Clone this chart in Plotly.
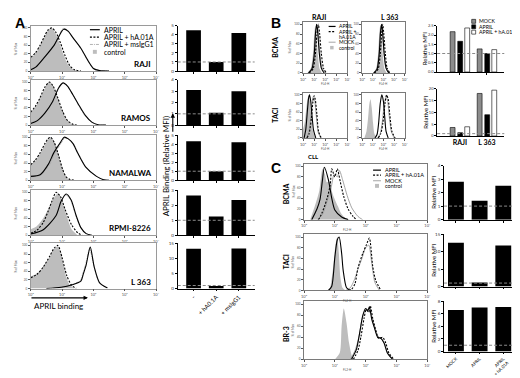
import plotly.graph_objects as go

W, H = 520, 378
FONT = "Lato, 'Open Sans', 'Liberation Sans', sans-serif"

# ============================ DATA ============================
# Histograms: x = log10 fluorescence (decades 10^0..10^4), y = % of max

# ---- Panel A: cell lines, APRIL binding ----
a_cells = ["RAJI", "RAMOS", "NAMALWA", "RPMI-8226", "L 363"]

raji_ctrl_x = [0, 0.15, 0.3, 0.45, 0.55, 0.65, 0.75, 0.9, 1.05, 1.2, 1.35, 1.5]
raji_ctrl_y = [30, 40, 58, 80, 94, 100, 92, 68, 38, 14, 4, 0]
raji_ha_x = [0, 0.15, 0.3, 0.45, 0.55, 0.67, 0.8, 0.95, 1.1, 1.25, 1.4, 1.6]
raji_ha_y = [32, 42, 60, 82, 95, 100, 90, 65, 35, 12, 3, 0]
raji_april_x = [0, 0.16, 0.43, 0.75, 0.91, 1.05, 1.2, 1.34, 1.6, 1.83, 2.0, 2.2, 2.5]
raji_april_y = [3, 9, 31, 60, 82, 97, 92, 78, 53, 24, 6, 1, 0]
raji_igg_x = [0, 0.2, 0.45, 0.75, 0.92, 1.03, 1.18, 1.32, 1.58, 1.8, 1.98, 2.2, 2.5]
raji_igg_y = [4, 11, 33, 62, 85, 99, 95, 80, 55, 26, 7, 1, 0]

ramos_ctrl_x = [0, 0.15, 0.3, 0.45, 0.58, 0.7, 0.85, 1.0, 1.15, 1.3, 1.45]
ramos_ctrl_y = [28, 42, 62, 85, 100, 92, 65, 35, 12, 3, 0]
ramos_ha_x = [0, 0.15, 0.3, 0.45, 0.6, 0.72, 0.87, 1.02, 1.18, 1.35, 1.5]
ramos_ha_y = [30, 44, 64, 88, 100, 90, 62, 32, 10, 2, 0]
ramos_april_x = [0, 0.2, 0.45, 0.7, 0.88, 1.03, 1.18, 1.35, 1.55, 1.75, 1.95, 2.15, 2.4]
ramos_april_y = [4, 10, 28, 55, 85, 98, 90, 70, 45, 22, 7, 1, 0]
ramos_igg_x = [0, 0.22, 0.47, 0.72, 0.9, 1.01, 1.16, 1.33, 1.52, 1.72, 1.92, 2.12, 2.4]
ramos_igg_y = [5, 11, 30, 57, 86, 97, 92, 72, 47, 23, 8, 1, 0]

namalwa_ctrl_x = [0, 0.15, 0.3, 0.45, 0.55, 0.65, 0.75, 0.88, 1.0, 1.1, 1.2, 1.35]
namalwa_ctrl_y = [34, 45, 62, 82, 94, 100, 90, 60, 30, 12, 3, 0]
namalwa_ha_x = [0, 0.15, 0.3, 0.45, 0.55, 0.63, 0.75, 0.9, 1.02, 1.13, 1.25, 1.4]
namalwa_ha_y = [36, 47, 64, 85, 96, 100, 88, 55, 25, 8, 2, 0]
namalwa_april_x = [0, 0.3, 0.57, 0.73, 0.95, 1.07, 1.2, 1.35, 1.5, 1.75, 2.1, 2.3, 2.5]
namalwa_april_y = [9, 13, 38, 63, 88, 100, 96, 85, 63, 31, 9, 2, 0]
namalwa_igg_x = [0, 0.32, 0.6, 0.76, 0.97, 1.09, 1.22, 1.37, 1.52, 1.77, 2.1, 2.3, 2.5]
namalwa_igg_y = [8, 12, 36, 62, 86, 98, 95, 84, 62, 30, 9, 2, 0]

rpmi_ctrl_x = [0, 0.2, 0.4, 0.55, 0.7, 0.87, 1.0, 1.15, 1.3, 1.5]
rpmi_ctrl_y = [14, 22, 40, 60, 82, 98, 80, 45, 15, 0]
rpmi_ha_x = [0, 0.2, 0.4, 0.55, 0.68, 0.81, 0.95, 1.1, 1.3, 1.5, 1.65]
rpmi_ha_y = [5, 12, 30, 55, 80, 100, 90, 60, 25, 6, 0]
rpmi_april_x = [0, 0.4, 0.81, 0.97, 1.13, 1.29, 1.45, 1.6, 1.77, 1.95]
rpmi_april_y = [3, 13, 46, 79, 96, 82, 46, 18, 4, 0]
rpmi_igg_x = [0, 0.42, 0.8, 0.95, 1.1, 1.26, 1.42, 1.58, 1.75, 1.95]
rpmi_igg_y = [3, 14, 45, 76, 94, 84, 50, 20, 5, 0]

l363_ctrl_x = [0, 0.2, 0.4, 0.6, 0.75, 0.87, 1.0, 1.13, 1.25, 1.4]
l363_ctrl_y = [28, 35, 50, 72, 92, 98, 70, 28, 8, 0]
l363_ha_x = [0, 0.2, 0.4, 0.6, 0.75, 0.87, 1.0, 1.15, 1.3, 1.45]
l363_ha_y = [25, 33, 50, 74, 94, 100, 72, 30, 8, 0]
l363_april_x = [0.5, 0.97, 1.3, 1.6, 1.68, 1.77, 1.9, 2.03, 2.2, 2.45]
l363_april_y = [0, 3, 8, 17, 34, 55, 96, 49, 13, 1]
l363_igg_x = [0.5, 0.95, 1.3, 1.58, 1.67, 1.76, 1.88, 2.02, 2.18, 2.45]
l363_igg_y = [0, 3, 9, 18, 36, 58, 92, 52, 14, 1]

a_bar_cats = ["-", "+ hA0.1A", "+ msIgG1"]
a_mfi_raji = [4.5, 1.0, 4.2]
a_mfi_ramos = [3.1, 1.1, 3.0]
a_mfi_namalwa = [4.3, 1.0, 4.2]
a_mfi_rpmi = [2.65, 1.25, 2.35]
a_mfi_l363 = [13.2, 0.8, 13.3]
a_mfi_max = [5, 4, 5, 3, 15]
a_mfi_step = [1, 1, 1, 1, 5]
baseline_mfi = 1.0

# ---- Panel B: receptor-transfected lines ----
b_cells = ["RAJI", "L 363"]
b_receptors = ["BCMA", "TACI"]

braji_bcma_ctrl_x = [0.4, 0.7, 0.9, 1.0, 1.1, 1.2, 1.35, 1.5, 1.7]
braji_bcma_ctrl_y = [0, 10, 40, 75, 97, 80, 35, 8, 0]
braji_bcma_mock_x = [0.45, 0.8, 1.0, 1.15, 1.26, 1.38, 1.52, 1.7, 2.0]
braji_bcma_mock_y = [0, 10, 40, 82, 98, 82, 42, 12, 0]
braji_bcma_ha_x = [0.55, 0.9, 1.1, 1.25, 1.38, 1.5, 1.65, 1.85, 2.1]
braji_bcma_ha_y = [0, 8, 35, 78, 100, 80, 40, 10, 0]
braji_bcma_april_x = [0.5, 0.8, 1.0, 1.12, 1.22, 1.32, 1.47, 1.65, 1.9]
braji_bcma_april_y = [0, 8, 35, 80, 100, 85, 40, 10, 0]

bl363_bcma_ctrl_x = [1.0, 1.3, 1.5, 1.6, 1.7, 1.8, 1.95, 2.1, 2.3]
bl363_bcma_ctrl_y = [0, 8, 40, 78, 98, 80, 35, 8, 0]
bl363_bcma_mock_x = [1.05, 1.38, 1.58, 1.7, 1.8, 1.9, 2.05, 2.22, 2.5]
bl363_bcma_mock_y = [0, 9, 40, 82, 97, 84, 42, 11, 0]
bl363_bcma_ha_x = [1.15, 1.5, 1.7, 1.83, 1.93, 2.03, 2.18, 2.35, 2.6]
bl363_bcma_ha_y = [0, 8, 38, 80, 100, 82, 40, 10, 0]
bl363_bcma_april_x = [1.1, 1.4, 1.6, 1.72, 1.82, 1.92, 2.07, 2.25, 2.5]
bl363_bcma_april_y = [0, 8, 38, 82, 100, 85, 40, 10, 0]

braji_taci_ctrl_x = [0, 0.15, 0.3, 0.42, 0.52, 0.62, 0.75, 0.9, 1.1]
braji_taci_ctrl_y = [20, 35, 70, 92, 98, 85, 50, 15, 0]
braji_taci_mock_x = [0.3, 0.5, 0.7, 0.85, 0.95, 1.05, 1.2, 1.38, 1.6]
braji_taci_mock_y = [0, 12, 48, 88, 97, 88, 50, 12, 0]
braji_taci_ha_x = [0.35, 0.55, 0.75, 0.9, 1.0, 1.1, 1.25, 1.4, 1.65]
braji_taci_ha_y = [0, 10, 45, 85, 98, 90, 55, 15, 0]
braji_taci_april_x = [0.1, 0.25, 0.4, 0.5, 0.58, 0.68, 0.8, 0.95, 1.15]
braji_taci_april_y = [0, 20, 65, 92, 100, 88, 55, 18, 0]

bl363_taci_ctrl_x = [0.2, 0.4, 0.55, 0.68, 0.78, 0.9, 1.02, 1.15, 1.35]
bl363_taci_ctrl_y = [0, 15, 45, 80, 90, 70, 35, 10, 0]
bl363_taci_mock_x = [1.45, 1.7, 1.9, 2.1, 2.25, 2.4, 2.55, 2.75, 3.0]
bl363_taci_mock_y = [0, 10, 38, 82, 95, 85, 50, 15, 0]
bl363_taci_ha_x = [1.5, 1.75, 1.95, 2.15, 2.3, 2.45, 2.6, 2.8, 3.1]
bl363_taci_ha_y = [0, 10, 35, 80, 100, 90, 55, 15, 0]
bl363_taci_april_x = [1.2, 1.4, 1.55, 1.7, 1.85, 2.0, 2.12, 2.25, 2.45]
bl363_taci_april_y = [0, 8, 35, 80, 100, 85, 50, 15, 0]

b_series = ["MOCK", "APRIL", "APRIL + hA.01A"]
b_bcma_mock = [2.18, 1.25]
b_bcma_april = [1.66, 1.0]
b_bcma_ha = [2.38, 1.21]
b_taci_mock = [3.6, 18.0]
b_taci_april = [1.4, 9.0]
b_taci_ha = [3.9, 19.4]
b_mfi_max = [2.5, 20]
b_mfi_step = [0.5, 5]

# ---- Panel C: CLL cells ----
c_receptors = ["BCMA", "TACI", "BR-3"]

c_bcma_ctrl_x = [0.2, 0.35, 0.42, 0.5, 0.6, 0.68, 0.74, 0.82, 0.92, 1.02, 1.1, 1.2, 1.32, 1.5]
c_bcma_ctrl_y = [0, 25, 38, 55, 95, 85, 70, 72, 50, 35, 25, 12, 4, 0]
c_bcma_mock_x = [0.45, 0.6, 0.75, 0.88, 0.98, 1.08, 1.15, 1.25, 1.4, 1.55, 1.75, 1.9]
c_bcma_mock_y = [0, 10, 35, 60, 85, 80, 92, 75, 45, 22, 6, 0]
c_bcma_ha_x = [0.47, 0.58, 0.74, 0.85, 0.9, 1.0, 1.08, 1.18, 1.29, 1.43, 1.59, 1.7]
c_bcma_ha_y = [0, 12, 38, 65, 95, 80, 95, 70, 43, 20, 6, 0]
c_bcma_april_x = [0.25, 0.42, 0.52, 0.6, 0.66, 0.79, 0.9, 1.0, 1.22, 1.43]
c_bcma_april_y = [0, 20, 38, 75, 98, 75, 40, 18, 5, 0]

c_taci_ctrl_x = [0.84, 0.95, 1.02, 1.08, 1.13, 1.18, 1.25, 1.35]
c_taci_ctrl_y = [0, 45, 85, 100, 70, 25, 5, 0]
c_taci_mock_x = [1.35, 1.5, 1.62, 1.75, 1.88, 2.0, 2.1, 2.2, 2.3, 2.45]
c_taci_mock_y = [0, 5, 18, 40, 60, 80, 85, 50, 15, 0]
c_taci_ha_x = [1.45, 1.54, 1.65, 1.75, 1.91, 2.02, 2.12, 2.23, 2.33, 2.5]
c_taci_ha_y = [0, 2, 12, 42, 70, 85, 98, 45, 18, 0]
c_taci_april_x = [0.79, 0.9, 1.0, 1.08, 1.14, 1.22, 1.27, 1.38, 1.5]
c_taci_april_y = [0, 8, 62, 95, 100, 70, 38, 5, 0]

c_br3_ctrl_x = [1.0, 1.16, 1.22, 1.29, 1.38, 1.46, 1.57, 1.65]
c_br3_ctrl_y = [0, 12, 60, 92, 66, 30, 4, 0]
c_br3_mock_x = [1.5, 1.65, 1.78, 1.88, 1.98, 2.05, 2.12, 2.2, 2.3, 2.4, 2.52, 2.62, 2.72, 2.88]
c_br3_mock_y = [0, 15, 40, 72, 88, 90, 92, 78, 55, 42, 36, 28, 10, 0]
c_br3_ha_x = [1.6, 1.75, 1.85, 1.95, 2.02, 2.1, 2.15, 2.23, 2.32, 2.42, 2.55, 2.65, 2.75, 2.9]
c_br3_ha_y = [0, 16, 42, 75, 90, 85, 97, 74, 55, 38, 40, 30, 12, 1]
c_br3_april_x = [1.54, 1.7, 1.8, 1.91, 2.0, 2.07, 2.12, 2.2, 2.28, 2.39, 2.5, 2.6, 2.7, 2.86]
c_br3_april_y = [0, 18, 46, 80, 92, 88, 95, 72, 58, 40, 38, 29, 12, 1]

c_bar_cats = ["MOCK", "APRIL", "APRIL<br>+ hA.01A"]
c_bcma_mfi = [2.8, 1.4, 2.5]
c_taci_mfi = [12.6, 1.2, 11.8]
c_br3_mfi = [6.6, 7.0, 7.1]
c_mfi_max = [4, 15, 8]
c_mfi_step = [1, 5, 2]

dec_vals = [0, 1, 2, 3, 4]
dec_text = ["10⁰", "10¹", "10²", "10³", "10⁴"]

# ============================ FIGURE ============================
fig = go.Figure()
axes_layout = {}
shapes = []
annotations = []
_n = [0]


def new_axes(xpx, ypx):
    _n[0] += 1
    s = "" if _n[0] == 1 else str(_n[0])
    axes_layout["xaxis" + s] = dict(domain=[xpx[0] / W, xpx[1] / W], anchor="y" + s)
    axes_layout["yaxis" + s] = dict(domain=[1 - ypx[1] / H, 1 - ypx[0] / H], anchor="x" + s)
    return "x" + s, "y" + s, "xaxis" + s, "yaxis" + s


def px(x):
    return x / W


def py(y):
    return 1 - y / H


def ann(x, y, text, size, bold=False, angle=0, xanchor="center", yanchor="middle", color="black", family=FONT):
    annotations.append(dict(
        x=px(x), y=py(y), xref="paper", yref="paper", text=("<b>%s</b>" % text) if bold else text,
        showarrow=False, textangle=angle, xanchor=xanchor, yanchor=yanchor,
        font=dict(size=size, color=color, family=family)))


def arrow(x_head, y_head, dx, dy):
    annotations.append(dict(x=px(x_head), y=py(y_head), xref="paper", yref="paper", ax=dx, ay=dy,
                            axref="pixel", ayref="pixel", text="", showarrow=True, arrowhead=2,
                            arrowsize=0.8, arrowwidth=1.1, arrowcolor="black"))


SMOOTH = 0.7
CTRL_FILL = "#bdbdbd"


def add_hist(xr, yr, ctrl, grey, ha, april, grey_style):
    fig.add_trace(go.Scatter(x=ctrl[0], y=ctrl[1], mode="lines", fill="tozeroy", fillcolor=CTRL_FILL,
                             line=dict(width=0, color=CTRL_FILL, shape="spline", smoothing=SMOOTH),
                             xaxis=xr, yaxis=yr, showlegend=False, hoverinfo="skip"))
    fig.add_trace(go.Scatter(x=grey[0], y=grey[1], mode="lines",
                             line=dict(shape="spline", smoothing=SMOOTH, **grey_style),
                             xaxis=xr, yaxis=yr, showlegend=False, hoverinfo="skip"))
    fig.add_trace(go.Scatter(x=ha[0], y=ha[1], mode="lines",
                             line=dict(color="black", width=1.1, dash="2px,1.5px", shape="spline", smoothing=SMOOTH),
                             xaxis=xr, yaxis=yr, showlegend=False, hoverinfo="skip"))
    fig.add_trace(go.Scatter(x=april[0], y=april[1], mode="lines",
                             line=dict(color="black", width=1.1, shape="spline", smoothing=SMOOTH),
                             xaxis=xr, yaxis=yr, showlegend=False, hoverinfo="skip"))


def style_hist_axes(xa, ya, frame="#7a7a7a"):
    axes_layout[xa].update(range=[0, 4], tickvals=dec_vals, ticktext=dec_text,
                           tickfont=dict(size=4, color="#555"), ticks="outside", ticklen=2, tickwidth=0.6,
                           tickcolor="#555", showline=True, linecolor=frame, linewidth=0.8, mirror=True,
                           showgrid=False, zeroline=False, fixedrange=True)
    axes_layout[ya].update(range=[0, 105], tickvals=[0, 20, 40, 60, 80, 100],
                           tickfont=dict(size=3, color="#555"), ticks="outside", ticklen=2, tickwidth=0.6,
                           tickcolor="#555", showline=True, linecolor=frame, linewidth=0.8, mirror=True,
                           showgrid=False, zeroline=False, fixedrange=True)


def style_bar_axes(xa, ya, ymax, step, xrange, show_labels, label_size=6, ticktext=None, cats=None):
    axes_layout[xa].update(type="category", range=xrange, showline=True, linecolor="black", linewidth=0.8,
                           ticks="outside", ticklen=2, tickwidth=0.6, tickcolor="black",
                           showticklabels=show_labels, tickangle=-45,
                           tickfont=dict(size=label_size, color="black"), showgrid=False, zeroline=False)
    if ticktext is not None:
        axes_layout[xa].update(tickvals=cats, ticktext=ticktext, tickangle=0)
    axes_layout[ya].update(range=[0, ymax], dtick=step, showline=True, linecolor="black", linewidth=0.8,
                           ticks="outside", ticklen=2, tickwidth=0.6, tickcolor="black",
                           tickfont=dict(size=4.5, color="#333"), showgrid=False, zeroline=False)


def ref_line(xr, yr):
    shapes.append(dict(type="line", xref=xr + " domain", x0=0, x1=1, yref=yr, y0=baseline_mfi, y1=baseline_mfi,
                       line=dict(color="#8a8a8a", width=1, dash="3px,2px")))


# ---------------- Panel A ----------------
A_HX = (20, 147)
A_BX = (169, 247)
A_ROWS = [(15, 61), (70, 116), (126, 172), (182, 228), (236, 282)]
a_hists = [
    ((raji_ctrl_x, raji_ctrl_y), (raji_igg_x, raji_igg_y), (raji_ha_x, raji_ha_y), (raji_april_x, raji_april_y)),
    ((ramos_ctrl_x, ramos_ctrl_y), (ramos_igg_x, ramos_igg_y), (ramos_ha_x, ramos_ha_y), (ramos_april_x, ramos_april_y)),
    ((namalwa_ctrl_x, namalwa_ctrl_y), (namalwa_igg_x, namalwa_igg_y), (namalwa_ha_x, namalwa_ha_y), (namalwa_april_x, namalwa_april_y)),
    ((rpmi_ctrl_x, rpmi_ctrl_y), (rpmi_igg_x, rpmi_igg_y), (rpmi_ha_x, rpmi_ha_y), (rpmi_april_x, rpmi_april_y)),
    ((l363_ctrl_x, l363_ctrl_y), (l363_igg_x, l363_igg_y), (l363_ha_x, l363_ha_y), (l363_april_x, l363_april_y)),
]
a_mfis = [a_mfi_raji, a_mfi_ramos, a_mfi_namalwa, a_mfi_rpmi, a_mfi_l363]
igg_style = dict(color="#a8a8a8", width=0.8, dash="3px,1px,1px,1px")

for i, row in enumerate(A_ROWS):
    xr, yr, xa, ya = new_axes(A_HX, row)
    ctrl, igg, ha, april = a_hists[i]
    add_hist(xr, yr, ctrl, igg, ha, april, igg_style)
    style_hist_axes(xa, ya, frame="#9a9a9a")
    ann(A_HX[1] - 3, row[1] - 7, a_cells[i], 8, bold=True, xanchor="right")
    ann(5, (row[0] + row[1]) / 2, "% of Max", 3, angle=-90, color="#555")

for i, row in enumerate(A_ROWS):
    xr, yr, xa, ya = new_axes(A_BX, row)
    fig.add_trace(go.Bar(x=a_bar_cats, y=a_mfis[i], width=0.65, marker=dict(color="black", line=dict(width=0)),
                         xaxis=xr, yaxis=yr, showlegend=False, hoverinfo="skip"))
    style_bar_axes(xa, ya, a_mfi_max[i], a_mfi_step[i], [-0.7, 2.7], i == len(A_ROWS) - 1)
    ref_line(xr, yr)

ann(2, 2, "A", 14, bold=True, xanchor="left", yanchor="top", family="Arial, 'Liberation Sans', sans-serif")
ann(158, 158, "APRIL Binding (Relative MFI)", 8, angle=-90)
arrow(164, 104, 0, 20)
ann(21, 300, "APRIL binding", 8, xanchor="left")
arrow(78, 291.5, -58, 0)

# Panel A legend
a_leg_y = [19, 26.5, 34, 41.5]
a_leg_text = ["APRIL", "APRIL + hA.01A", "APRIL + msIgG1", "control"]
shapes.append(dict(type="line", xref="paper", yref="paper", x0=px(80), x1=px(90), y0=py(a_leg_y[0]), y1=py(a_leg_y[0]),
                   line=dict(color="black", width=1.2)))
shapes.append(dict(type="line", xref="paper", yref="paper", x0=px(80), x1=px(90), y0=py(a_leg_y[1]), y1=py(a_leg_y[1]),
                   line=dict(color="black", width=1.2, dash="2px,1.5px")))
shapes.append(dict(type="line", xref="paper", yref="paper", x0=px(80), x1=px(90), y0=py(a_leg_y[2]), y1=py(a_leg_y[2]),
                   line=dict(color="#a0a0a0", width=0.8, dash="3px,1px,1px,1px")))
shapes.append(dict(type="rect", xref="paper", yref="paper", x0=px(83), x1=px(87), y0=py(a_leg_y[3] + 2), y1=py(a_leg_y[3] - 2),
                   fillcolor=CTRL_FILL, line=dict(width=0)))
for yy, tt in zip(a_leg_y, a_leg_text):
    ann(92, yy, tt, 7, xanchor="left")

# ---------------- Panel B ----------------
B_HX = [(296, 341), (356, 399)]
B_HROWS = [(11, 63), (83, 129)]
b_hists = [
    [((braji_bcma_ctrl_x, braji_bcma_ctrl_y), (braji_bcma_mock_x, braji_bcma_mock_y), (braji_bcma_ha_x, braji_bcma_ha_y), (braji_bcma_april_x, braji_bcma_april_y)),
     ((bl363_bcma_ctrl_x, bl363_bcma_ctrl_y), (bl363_bcma_mock_x, bl363_bcma_mock_y), (bl363_bcma_ha_x, bl363_bcma_ha_y), (bl363_bcma_april_x, bl363_bcma_april_y))],
    [((braji_taci_ctrl_x, braji_taci_ctrl_y), (braji_taci_mock_x, braji_taci_mock_y), (braji_taci_ha_x, braji_taci_ha_y), (braji_taci_april_x, braji_taci_april_y)),
     ((bl363_taci_ctrl_x, bl363_taci_ctrl_y), (bl363_taci_mock_x, bl363_taci_mock_y), (bl363_taci_ha_x, bl363_taci_ha_y), (bl363_taci_april_x, bl363_taci_april_y))],
]
mock_style = dict(color="#9a9a9a", width=0.9)
for r, row in enumerate(B_HROWS):
    for c, colx in enumerate(B_HX):
        xr, yr, xa, ya = new_axes(colx, row)
        ctrl, mock, ha, april = b_hists[r][c]
        add_hist(xr, yr, ctrl, mock, ha, april, mock_style)
        style_hist_axes(xa, ya)
        ann((colx[0] + colx[1]) / 2, row[1] + 11, "FL4-H", 3, color="#555")
    ann(268, (row[0] + row[1]) / 2, b_receptors[r], 7, bold=True, angle=-90)
    ann(283, (row[0] + row[1]) / 2, "% of Max", 3, angle=-90, color="#555")

ann(312, 6, "RAJI", 7, bold=True)
ann(384, 6, "L 363", 7, bold=True)
ann(262, 2, "B", 14, bold=True, xanchor="left", yanchor="top", family="Arial, 'Liberation Sans', sans-serif")

# Panel B histogram legend
shapes.append(dict(type="line", xref="paper", yref="paper", x0=px(322), x1=px(329), y0=py(15.7), y1=py(15.7),
                   line=dict(color="black", width=1.2)))
shapes.append(dict(type="line", xref="paper", yref="paper", x0=px(322), x1=px(329), y0=py(21), y1=py(21),
                   line=dict(color="black", width=1.2, dash="2px,1.5px")))
shapes.append(dict(type="line", xref="paper", yref="paper", x0=px(322), x1=px(329), y0=py(31.7), y1=py(31.7),
                   line=dict(color="#9a9a9a", width=0.9)))
shapes.append(dict(type="rect", xref="paper", yref="paper", x0=px(323.5), x1=px(327), y0=py(39), y1=py(35.5),
                   fillcolor=CTRL_FILL, line=dict(width=0)))
for yy, tt in zip([15.7, 21, 26.3, 31.7, 37.3], ["APRIL", "APRIL +", "hA.01A", "MOCK", "control"]):
    ann(330.5, yy, tt, 5, xanchor="left")

B_BX = (432, 500)
B_BROWS = [(15, 62), (79, 127)]
b_bars = [(b_bcma_mock, b_bcma_april, b_bcma_ha), (b_taci_mock, b_taci_april, b_taci_ha)]
bar_styles = [dict(color="#8c8c8c", line=dict(color="black", width=0.6)),
              dict(color="black", line=dict(color="black", width=0.6)),
              dict(color="white", line=dict(color="black", width=0.6))]
bar_offsets = [-0.36, -0.08, 0.18]
for r, row in enumerate(B_BROWS):
    xr, yr, xa, ya = new_axes(B_BX, row)
    for s in range(3):
        fig.add_trace(go.Bar(x=b_cells, y=b_bars[r][s], width=0.18, offset=bar_offsets[s], marker=bar_styles[s],
                             xaxis=xr, yaxis=yr, showlegend=False, hoverinfo="skip", name=b_series[s]))
    last = r == len(B_BROWS) - 1
    style_bar_axes(xa, ya, b_mfi_max[r], b_mfi_step[r], [-0.84, 1.64], last, label_size=7,
                   ticktext=["<b>%s</b>" % c for c in b_cells] if last else None, cats=b_cells if last else None)
    axes_layout[ya].update(tickformat=".1f" if r == 0 else "d", tickfont=dict(size=4, color="#333"))
    if last:
        axes_layout[xa].update(ticks="", ticklabelstandoff=0)
    ref_line(xr, yr)
    ann(420, (row[0] + row[1]) / 2, "Relative MFI", 6, angle=-90)

# Panel B bar legend
for yy, tt, st in zip([10.5, 16, 21.5], b_series, bar_styles):
    shapes.append(dict(type="rect", xref="paper", yref="paper", x0=px(467), x1=px(471), y0=py(yy + 2), y1=py(yy - 2),
                       fillcolor=st["color"], line=dict(color="black", width=0.6)))
    ann(472, yy, tt, 5.2, xanchor="left")

# ---------------- Panel C ----------------
C_HX = (297, 422)
C_HROWS = [(155, 212), (227, 284), (295, 354)]
c_hists = [
    ((c_bcma_ctrl_x, c_bcma_ctrl_y), (c_bcma_mock_x, c_bcma_mock_y), (c_bcma_ha_x, c_bcma_ha_y), (c_bcma_april_x, c_bcma_april_y)),
    ((c_taci_ctrl_x, c_taci_ctrl_y), (c_taci_mock_x, c_taci_mock_y), (c_taci_ha_x, c_taci_ha_y), (c_taci_april_x, c_taci_april_y)),
    ((c_br3_ctrl_x, c_br3_ctrl_y), (c_br3_mock_x, c_br3_mock_y), (c_br3_ha_x, c_br3_ha_y), (c_br3_april_x, c_br3_april_y)),
]
c_label_y = [186, 255, 328]
for r, row in enumerate(C_HROWS):
    xr, yr, xa, ya = new_axes(C_HX, row)
    ctrl, mock, ha, april = c_hists[r]
    add_hist(xr, yr, ctrl, mock, ha, april, mock_style)
    style_hist_axes(xa, ya)
    ann(341, row[1] + 10.5, "FL2-H", 3, color="#555")
    ann(279, c_label_y[r], c_receptors[r], 7, bold=True, angle=-90)
    ann(286, (row[0] + row[1]) / 2, "% of Max", 3, angle=-90, color="#555")

ann(262, 149, "C", 14, bold=True, xanchor="left", yanchor="top", family="Arial, 'Liberation Sans', sans-serif")
ann(299, 148, "CLL", 6, bold=True, xanchor="left")

# Panel C legend
c_leg_y = [161.7, 166.8, 172.5, 177.7]
shapes.append(dict(type="line", xref="paper", yref="paper", x0=px(367), x1=px(375), y0=py(c_leg_y[0]), y1=py(c_leg_y[0]),
                   line=dict(color="black", width=1.2)))
shapes.append(dict(type="line", xref="paper", yref="paper", x0=px(367), x1=px(375), y0=py(c_leg_y[1]), y1=py(c_leg_y[1]),
                   line=dict(color="black", width=1.2, dash="2px,1.5px")))
shapes.append(dict(type="line", xref="paper", yref="paper", x0=px(367), x1=px(375), y0=py(c_leg_y[2]), y1=py(c_leg_y[2]),
                   line=dict(color="#9a9a9a", width=0.9)))
shapes.append(dict(type="rect", xref="paper", yref="paper", x0=px(369), x1=px(373), y0=py(c_leg_y[3] + 2), y1=py(c_leg_y[3] - 2),
                   fillcolor=CTRL_FILL, line=dict(width=0)))
for yy, tt in zip(c_leg_y, ["APRIL", "APRIL + hA.01A", "MOCK", "control"]):
    ann(377, yy, tt, 5.5, xanchor="left")

C_BX = (439, 511)
C_BROWS = [(157, 212), (227, 280), (295, 346)]
c_mfis = [c_bcma_mfi, c_taci_mfi, c_br3_mfi]
for r, row in enumerate(C_BROWS):
    xr, yr, xa, ya = new_axes(C_BX, row)
    fig.add_trace(go.Bar(x=c_bar_cats, y=c_mfis[r], width=0.67, marker=dict(color="black", line=dict(width=0)),
                         xaxis=xr, yaxis=yr, showlegend=False, hoverinfo="skip"))
    style_bar_axes(xa, ya, c_mfi_max[r], c_mfi_step[r], [-0.5, 2.5], r == len(C_BROWS) - 1, label_size=4.4)
    ref_line(xr, yr)
    ann(428, (row[0] + row[1]) / 2, "Relative MFI", 6, angle=-90)

fig.update_layout(
    width=W, height=H, margin=dict(l=0, r=0, t=0, b=0),
    paper_bgcolor="white", plot_bgcolor="white",
    font=dict(family=FONT, size=6, color="black"),
    showlegend=False, shapes=shapes, annotations=annotations,
    **axes_layout,
)

fig.write_html("out.html")
